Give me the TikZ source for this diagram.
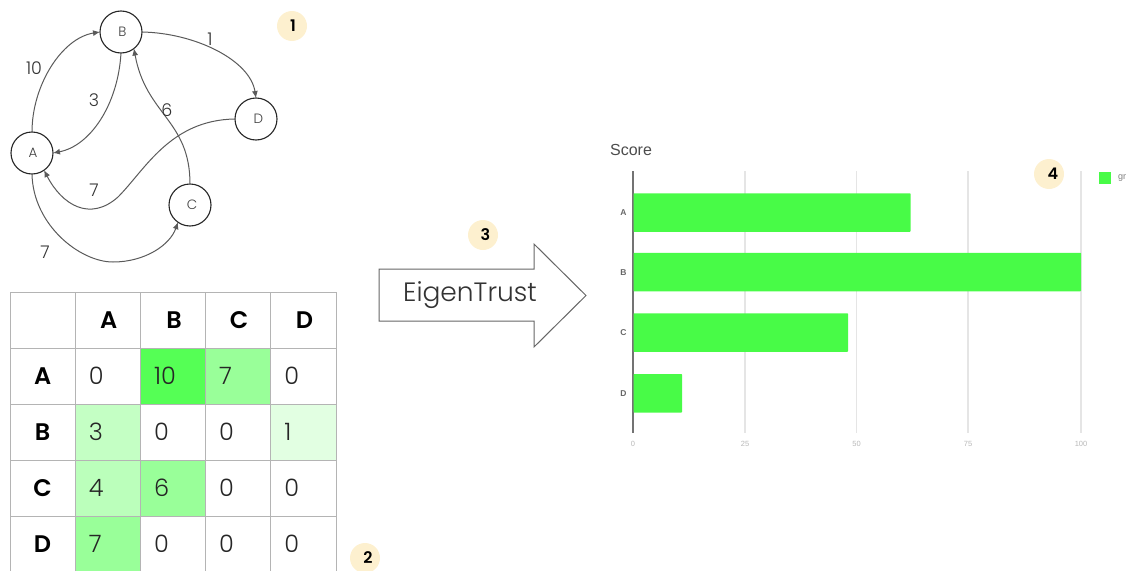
\documentclass[tikz,border=0pt]{standalone}
\usepackage{fontspec}
\setmainfont{Poppins}[UprightFont=* Light,BoldFont=* SemiBold]
\setsansfont{Liberation Sans}
\usetikzlibrary{arrows.meta}
\definecolor{edgec}{HTML}{5A5A5A}
\definecolor{gridc}{HTML}{B4B4B4}
\definecolor{badge}{HTML}{FDF0CF}
\definecolor{bar}{HTML}{48FB47}
\definecolor{cellA}{HTML}{55FF55}
\definecolor{cellB}{HTML}{99FF99}
\definecolor{cellC}{HTML}{C4FFC4}
\definecolor{cellD}{HTML}{BBFFBB}
\definecolor{cellE}{HTML}{E2FFE2}
\tikzset{
  peer/.style={circle,draw=black!85,line width=1.1pt,fill=white,minimum size=42pt,inner sep=0pt,outer sep=0pt,font=\fontsize{13.5}{13.5}\selectfont,text=black!75},
  edge/.style={draw=edgec,line width=1pt,-{Latex[length=7pt,width=6pt]}},
  wlabel/.style={font=\fontsize{17.5}{17.5}\selectfont,text=black!80,inner sep=0pt},
  stepnum/.style={circle,fill=badge,minimum size=30pt,inner sep=0pt,font=\bfseries\fontsize{16}{16}\selectfont},
  cell/.style={draw=gridc,line width=1pt,minimum width=65.2pt,minimum height=56pt,inner sep=0pt,outer sep=0pt,anchor=north west},
  val/.style={cell,align=left,text width=38pt,inner xsep=12.6pt,font=\fontsize{24}{24}\selectfont,text=black!85},
  head/.style={cell,font=\bfseries\fontsize{24}{24}\selectfont},
  barbox/.style={fill=bar,inner sep=0pt,outer sep=0pt,anchor=north west,minimum height=38.5pt,rounded corners=0.6pt},
  tick/.style={font=\sffamily\fontsize{7.5}{7.5}\selectfont,text=black!28,inner sep=0pt},
  cat/.style={font=\sffamily\bfseries\fontsize{8.5}{8.5}\selectfont,text=black!60,inner sep=0pt},
  gridline/.style={draw=black!10,line width=1.3pt},
}
\begin{document}
\begin{tikzpicture}[x=1pt,y=-1pt]
\useasboundingbox (0,0) rectangle (1129,570);
% graph
\node[peer] (B) at (121,32) {\hspace*{3pt}B};
\node[peer] (D) at (256,119) {\hspace*{5pt}D};
\node[peer] (A) at (32,153) {\hspace*{2pt}A};
\node[peer] (C) at (190,205) {\hspace*{4pt}C};
\draw[edge] (A.north) .. controls (32,85) and (62,38) .. (B.west);
\draw[edge] (B.east) .. controls (195,33) and (250,60) .. (D.north);
\draw[edge] (B.south) .. controls (118,105) and (90,146) .. (A.east);
\draw[edge] (C.north) .. controls (190,120) and (146,115) .. (B.-52);
\draw[edge] (D.west) .. controls (170,120) and (145,170) .. (118,197) .. controls (90,222) and (62,205) .. (A.-55);
\draw[edge] (A.south) .. controls (33,225) and (80,262) .. (113,262) .. controls (145,262) and (170,245) .. (C.-125);
\node[wlabel] (l1) at (34,68) {10};
\node[wlabel] (l2) at (94,100) {3};
\node[wlabel] (l3) at (210,39) {1};
\node[wlabel] (l4) at (167,110) {6};
\node[wlabel] (l5) at (94,190) {7};
\node[wlabel] (l6) at (45,252) {7};
\node[stepnum] (s1) at (292,26) {\hspace*{2pt}1};
% table
\foreach \lab/\col/\x/\y/\sty in {
 /white/10/292/head, \hspace*{2pt}A/white/75.2/292/head, \hspace*{2pt}B/white/140.4/292/head, \hspace*{2pt}C/white/205.6/292/head, \hspace*{2pt}D/white/270.8/292/head,
 A/white/10/348/head, 0/white/75.2/348/val, 10/cellA/140.4/348/val, 7/cellB/205.6/348/val, 0/white/270.8/348/val,
 B/white/10/404/head, 3/cellC/75.2/404/val, 0/white/140.4/404/val, 0/white/205.6/404/val, 1/cellE/270.8/404/val,
 C/white/10/460/head, 4/cellD/75.2/460/val, 6/cellB/140.4/460/val, 0/white/205.6/460/val, 0/white/270.8/460/val,
 D/white/10/516/head, 7/cellB/75.2/516/val, 0/white/140.4/516/val, 0/white/205.6/516/val, 0/white/270.8/516/val}
  {\node[\sty,fill=\col] at (\x,\y) {\lab};}
\node[stepnum] (s2) at (365,558) {\hspace*{6pt}2};
% arrow
\node[stepnum] (s3) at (483,235) {\hspace*{5pt}3};
\draw[draw=black!60,line width=1pt,fill=white] (379,269) -- (534,269) -- (534,244) -- (586,295.5) -- (534,347) -- (534,321) -- (379,321) -- cycle;
\node[font=\fontsize{26.5}{26.5}\selectfont,text=black!80,inner sep=0pt] (et) at (470,295) {EigenTrust};
% chart
\node[font=\sffamily\fontsize{16}{16}\selectfont,text=black!70,inner sep=0pt] (title) at (631,150) {Score};
\foreach \x in {745,856.5,968,1081} \draw[gridline] (\x,171) -- (\x,433);
\draw[draw=black!55,line width=1.1pt] (633,171) -- (633,433);
\node[barbox,minimum width=277pt] (ba) at (633.5,193.3) {};
\node[barbox,minimum width=447.5pt] (bb) at (633.5,252.8) {};
\node[barbox,minimum width=214.5pt] (bc) at (633.5,313.3) {};
\node[barbox,minimum width=48.5pt] (bd) at (633.5,374) {};
\node[cat] at (623.5,212.5) {A};
\node[cat] at (623.5,272.5) {B};
\node[cat] at (623.5,333) {C};
\node[cat] at (623.5,393.5) {D};
\foreach \x/\t in {633/0,745/25,856.5/50,968/75,1081/100} \node[tick] at (\x,444) {\t};
\node[stepnum] (s4) at (1049,174) {\hspace*{8pt}4};
\fill[bar] (1099,172) rectangle (1111,184);
\node[font=\sffamily\fontsize{9}{9}\selectfont,text=black!50,inner sep=0pt,anchor=west] (lg) at (1118,178) {gr};
\end{tikzpicture}
\end{document}
